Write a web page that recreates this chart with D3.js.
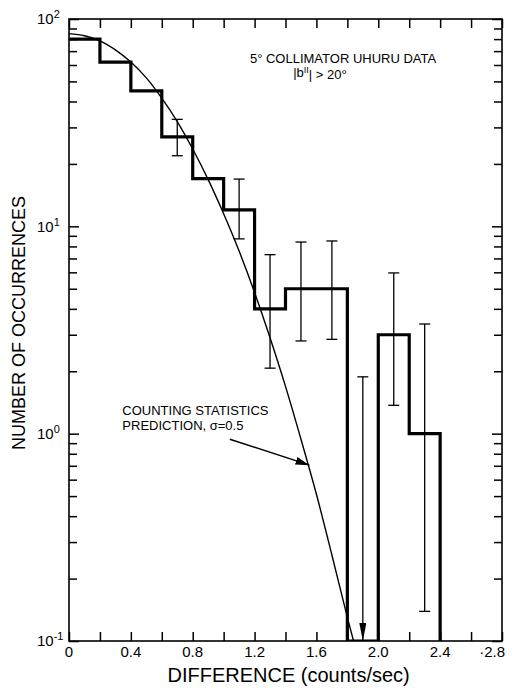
<!DOCTYPE html>
<html>
<head>
<meta charset="utf-8">
<script src="https://cdn.jsdelivr.net/npm/d3@7"></script>
<style>
  body { margin: 0; background: #fff; }
  svg { font-family: "Liberation Sans", Arial, sans-serif; }
</style>
</head>
<body>
<div id="graph"></div>
<script>
// histogram (bin left edges, width 0.2)
const binStarts = [0, 0.2, 0.4, 0.6, 0.8, 1.0, 1.2, 1.4, 1.6, 1.8, 2.0, 2.2];
const binWidth = 0.2;
const counts = [80, 62, 45, 27, 17, 12, 4, 5, 5, 0, 3, 1];

// error bars (1.9 is an upper limit -> arrow)
const errX    = [0.7, 1.1, 1.3, 1.5, 1.7, 1.9, 2.1, 2.3];
const errHigh = [32.8, 16.9, 7.3, 8.4, 8.5, 1.88, 5.96, 3.38];
const errLow  = [21.9, 8.7, 2.07, 2.8, 2.85, null, 1.37, 0.139];

// counting statistics prediction, sigma = 0.5
const curveX = [0, 0.1, 0.2, 0.3, 0.4, 0.5, 0.6, 0.7, 0.8, 0.9, 1.0, 1.1, 1.2, 1.3, 1.4, 1.5, 1.6, 1.7, 1.8, 1.84];
const curveY = [85, 83, 78.5, 71, 62, 52, 41.5, 32, 23.6, 16.8, 11.5, 7.6, 4.8, 2.9, 1.69, 0.94, 0.51, 0.26, 0.13, 0.1];

// axis ticks
const xTicks = [0, 0.2, 0.4, 0.6, 0.8, 1.0, 1.2, 1.4, 1.6, 1.8, 2.0, 2.2, 2.4, 2.6, 2.8];
const xLabelValues = [0, 0.4, 0.8, 1.2, 1.6, 2.0, 2.4, 2.8];
const xLabelText = ["0", "0.4", "0.8", "1.2", "1.6", "2.0", "2.4", "\u00b72.8"];
const yDecades = [0.1, 1, 10, 100];
const yDecadeExp = ["-1", "0", "1", "2"];

// annotation arrow (tail, tip) in data units
const noteArrowX = [1.04, 1.555];
const noteArrowY = [0.94, 0.705];

const margin = {top: 19, right: 13, bottom: 47, left: 69};
const width = 515 - margin.left - margin.right;
const height = 688 - margin.top - margin.bottom;

const x = d3.scaleLinear().domain([0, 2.8]).range([0, width]);
const y = d3.scaleLog().domain([0.1, 100]).range([height, 0]);

const svg = d3.select("#graph").append("svg")
    .attr("width", 515)
    .attr("height", 688);

const defs = svg.append("defs");
defs.append("clipPath").attr("id", "plot")
  .append("rect").attr("width", width).attr("height", height);
defs.append("marker")
    .attr("id", "head")
    .attr("viewBox", "0 0 14 8")
    .attr("refX", 14).attr("refY", 4)
    .attr("markerWidth", 14).attr("markerHeight", 8)
    .attr("markerUnits", "userSpaceOnUse")
    .attr("orient", "auto")
  .append("path").attr("d", "M0,0 L14,4 L0,8 Z").attr("fill", "#000");
defs.append("marker")
    .attr("id", "headDown")
    .attr("viewBox", "0 0 18 7")
    .attr("refX", 18).attr("refY", 3.5)
    .attr("markerWidth", 18).attr("markerHeight", 7)
    .attr("markerUnits", "userSpaceOnUse")
    .attr("orient", "auto")
  .append("path").attr("d", "M0,0 L18,3.5 L0,7 Z").attr("fill", "#000");

const g = svg.append("g")
    .attr("transform", "translate(" + margin.left + "," + margin.top + ")");

// ticks, all pointing inward
const minorY = [];
[0.1, 1, 10].forEach(function(d) {
  for (let k = 2; k <= 9; k++) minorY.push(+(d * k).toPrecision(3));
});

function noDomain(sel) { sel.select(".domain").remove(); }

g.append("g").attr("transform", "translate(0," + height + ")")
    .call(d3.axisBottom(x).tickValues(xTicks).tickSize(-9).tickFormat(""))
    .call(noDomain);
g.append("g")
    .call(d3.axisTop(x).tickValues(xTicks).tickSize(-9).tickFormat(""))
    .call(noDomain);
g.append("g")
    .call(d3.axisLeft(y).tickValues(minorY).tickSize(-8).tickFormat(""))
    .call(noDomain);
g.append("g")
    .call(d3.axisLeft(y).tickValues(yDecades).tickSize(-10).tickFormat(""))
    .call(noDomain);
g.append("g").attr("transform", "translate(" + width + ",0)")
    .call(d3.axisRight(y).tickValues(minorY).tickSize(-8).tickFormat(""))
    .call(noDomain);
g.append("g").attr("transform", "translate(" + width + ",0)")
    .call(d3.axisRight(y).tickValues(yDecades).tickSize(-10).tickFormat(""))
    .call(noDomain);
g.selectAll(".tick line").attr("stroke", "#000").attr("stroke-width", 1.5);

// frame
g.append("rect")
    .attr("width", width).attr("height", height)
    .attr("fill", "none").attr("stroke", "#000").attr("stroke-width", 1.6);

// x labels
g.selectAll(".xlab")
    .data(xLabelValues)
  .enter().append("text")
    .attr("x", function(d) { return x(d); })
    .attr("y", height + 16)
    .attr("text-anchor", function(d, i) { return i === xLabelValues.length - 1 ? "end" : "middle"; })
    .attr("dx", function(d, i) { return i === xLabelValues.length - 1 ? 3 : 0; })
    .style("font-size", "15px")
    .text(function(d, i) { return xLabelText[i]; });

// y labels 10^n
const ylab = g.selectAll(".ylab")
    .data(yDecades)
  .enter().append("text")
    .attr("x", -32)
    .attr("y", function(d) { return y(d); })
    .attr("dy", "0.36em")
    .style("font-size", "15px")
    .attr("text-anchor", "start");
ylab.append("tspan").text("10");
ylab.append("tspan")
    .attr("dy", "-0.55em")
    .style("font-size", "11px")
    .text(function(d, i) { return yDecadeExp[i]; });

// axis titles
svg.append("text")
    .attr("x", margin.left + x(1.42))
    .attr("y", 682)
    .attr("text-anchor", "middle")
    .style("font-size", "20px")
    .text("DIFFERENCE (counts/sec)");

svg.append("text")
    .attr("transform", "rotate(-90)")
    .attr("x", -323)
    .attr("y", 25)
    .attr("text-anchor", "middle")
    .style("font-size", "18px")
    .text("NUMBER OF OCCURRENCES");

const plot = g.append("g").attr("clip-path", "url(#plot)");

// prediction curve
const curvePts = curveX.map(function(d, i) { return [d, curveY[i]]; });
plot.append("path")
    .datum(curvePts)
    .attr("fill", "none")
    .attr("stroke", "#000")
    .attr("stroke-width", 1.4)
    .attr("d", d3.line()
        .x(function(d) { return x(d[0]); })
        .y(function(d) { return y(d[1]); })
        .curve(d3.curveMonotoneX));

// histogram as a step line
const floor = y.domain()[0];
const histPts = binStarts.map(function(d, i) { return [d, Math.max(counts[i], floor)]; });
histPts.push([binStarts[binStarts.length - 1] + binWidth, floor]);
plot.append("path")
    .datum(histPts)
    .attr("fill", "none")
    .attr("stroke", "#000")
    .attr("stroke-width", 3.2)
    .attr("stroke-linejoin", "miter")
    .attr("d", d3.line()
        .x(function(d) { return x(d[0]); })
        .y(function(d) { return y(d[1]); })
        .curve(d3.curveStepAfter));

// error bars
const cap = 5.5;
const err = g.selectAll(".err")
    .data(errX)
  .enter().append("g")
    .attr("stroke", "#000")
    .attr("stroke-width", 1.3);
err.append("line")
    .attr("x1", function(d) { return x(d); })
    .attr("x2", function(d) { return x(d); })
    .attr("y1", function(d, i) { return y(errHigh[i]); })
    .attr("y2", function(d, i) { return errLow[i] === null ? y(floor) : y(errLow[i]); })
    .attr("marker-end", function(d, i) { return errLow[i] === null ? "url(#headDown)" : null; });
err.append("line")
    .attr("x1", function(d) { return x(d) - cap; })
    .attr("x2", function(d) { return x(d) + cap; })
    .attr("y1", function(d, i) { return y(errHigh[i]); })
    .attr("y2", function(d, i) { return y(errHigh[i]); });
err.filter(function(d, i) { return errLow[i] !== null; })
  .append("line")
    .attr("x1", function(d) { return x(d) - cap; })
    .attr("x2", function(d) { return x(d) + cap; })
    .attr("y1", function(d) { return y(errLow[errX.indexOf(d)]); })
    .attr("y2", function(d) { return y(errLow[errX.indexOf(d)]); });

// annotation
g.append("line")
    .attr("x1", x(noteArrowX[0])).attr("y1", y(noteArrowY[0]))
    .attr("x2", x(noteArrowX[1])).attr("y2", y(noteArrowY[1]))
    .attr("stroke", "#000").attr("stroke-width", 1.4)
    .attr("marker-end", "url(#head)");

const note = g.append("text")
    .style("font-size", "13px");
note.append("tspan").attr("x", x(0.345)).attr("y", y(1.23)).text("COUNTING STATISTICS");
note.append("tspan").attr("x", x(0.345)).attr("y", y(1.04)).text("PREDICTION, \u03c3=0.5");

const title = g.append("text").style("font-size", "13px");
title.append("tspan").attr("x", x(1.17)).attr("y", 44).text("5\u00b0 COLLIMATOR UHURU DATA");
const t2 = g.append("text").style("font-size", "13px")
    .attr("x", x(1.45)).attr("y", 58);
t2.append("tspan").text("|b");
t2.append("tspan").attr("dy", "-0.4em").style("font-size", "9px").text("II");
t2.append("tspan").attr("dy", "0.4em").text("| > 20\u00b0");
</script>
</body>
</html>
